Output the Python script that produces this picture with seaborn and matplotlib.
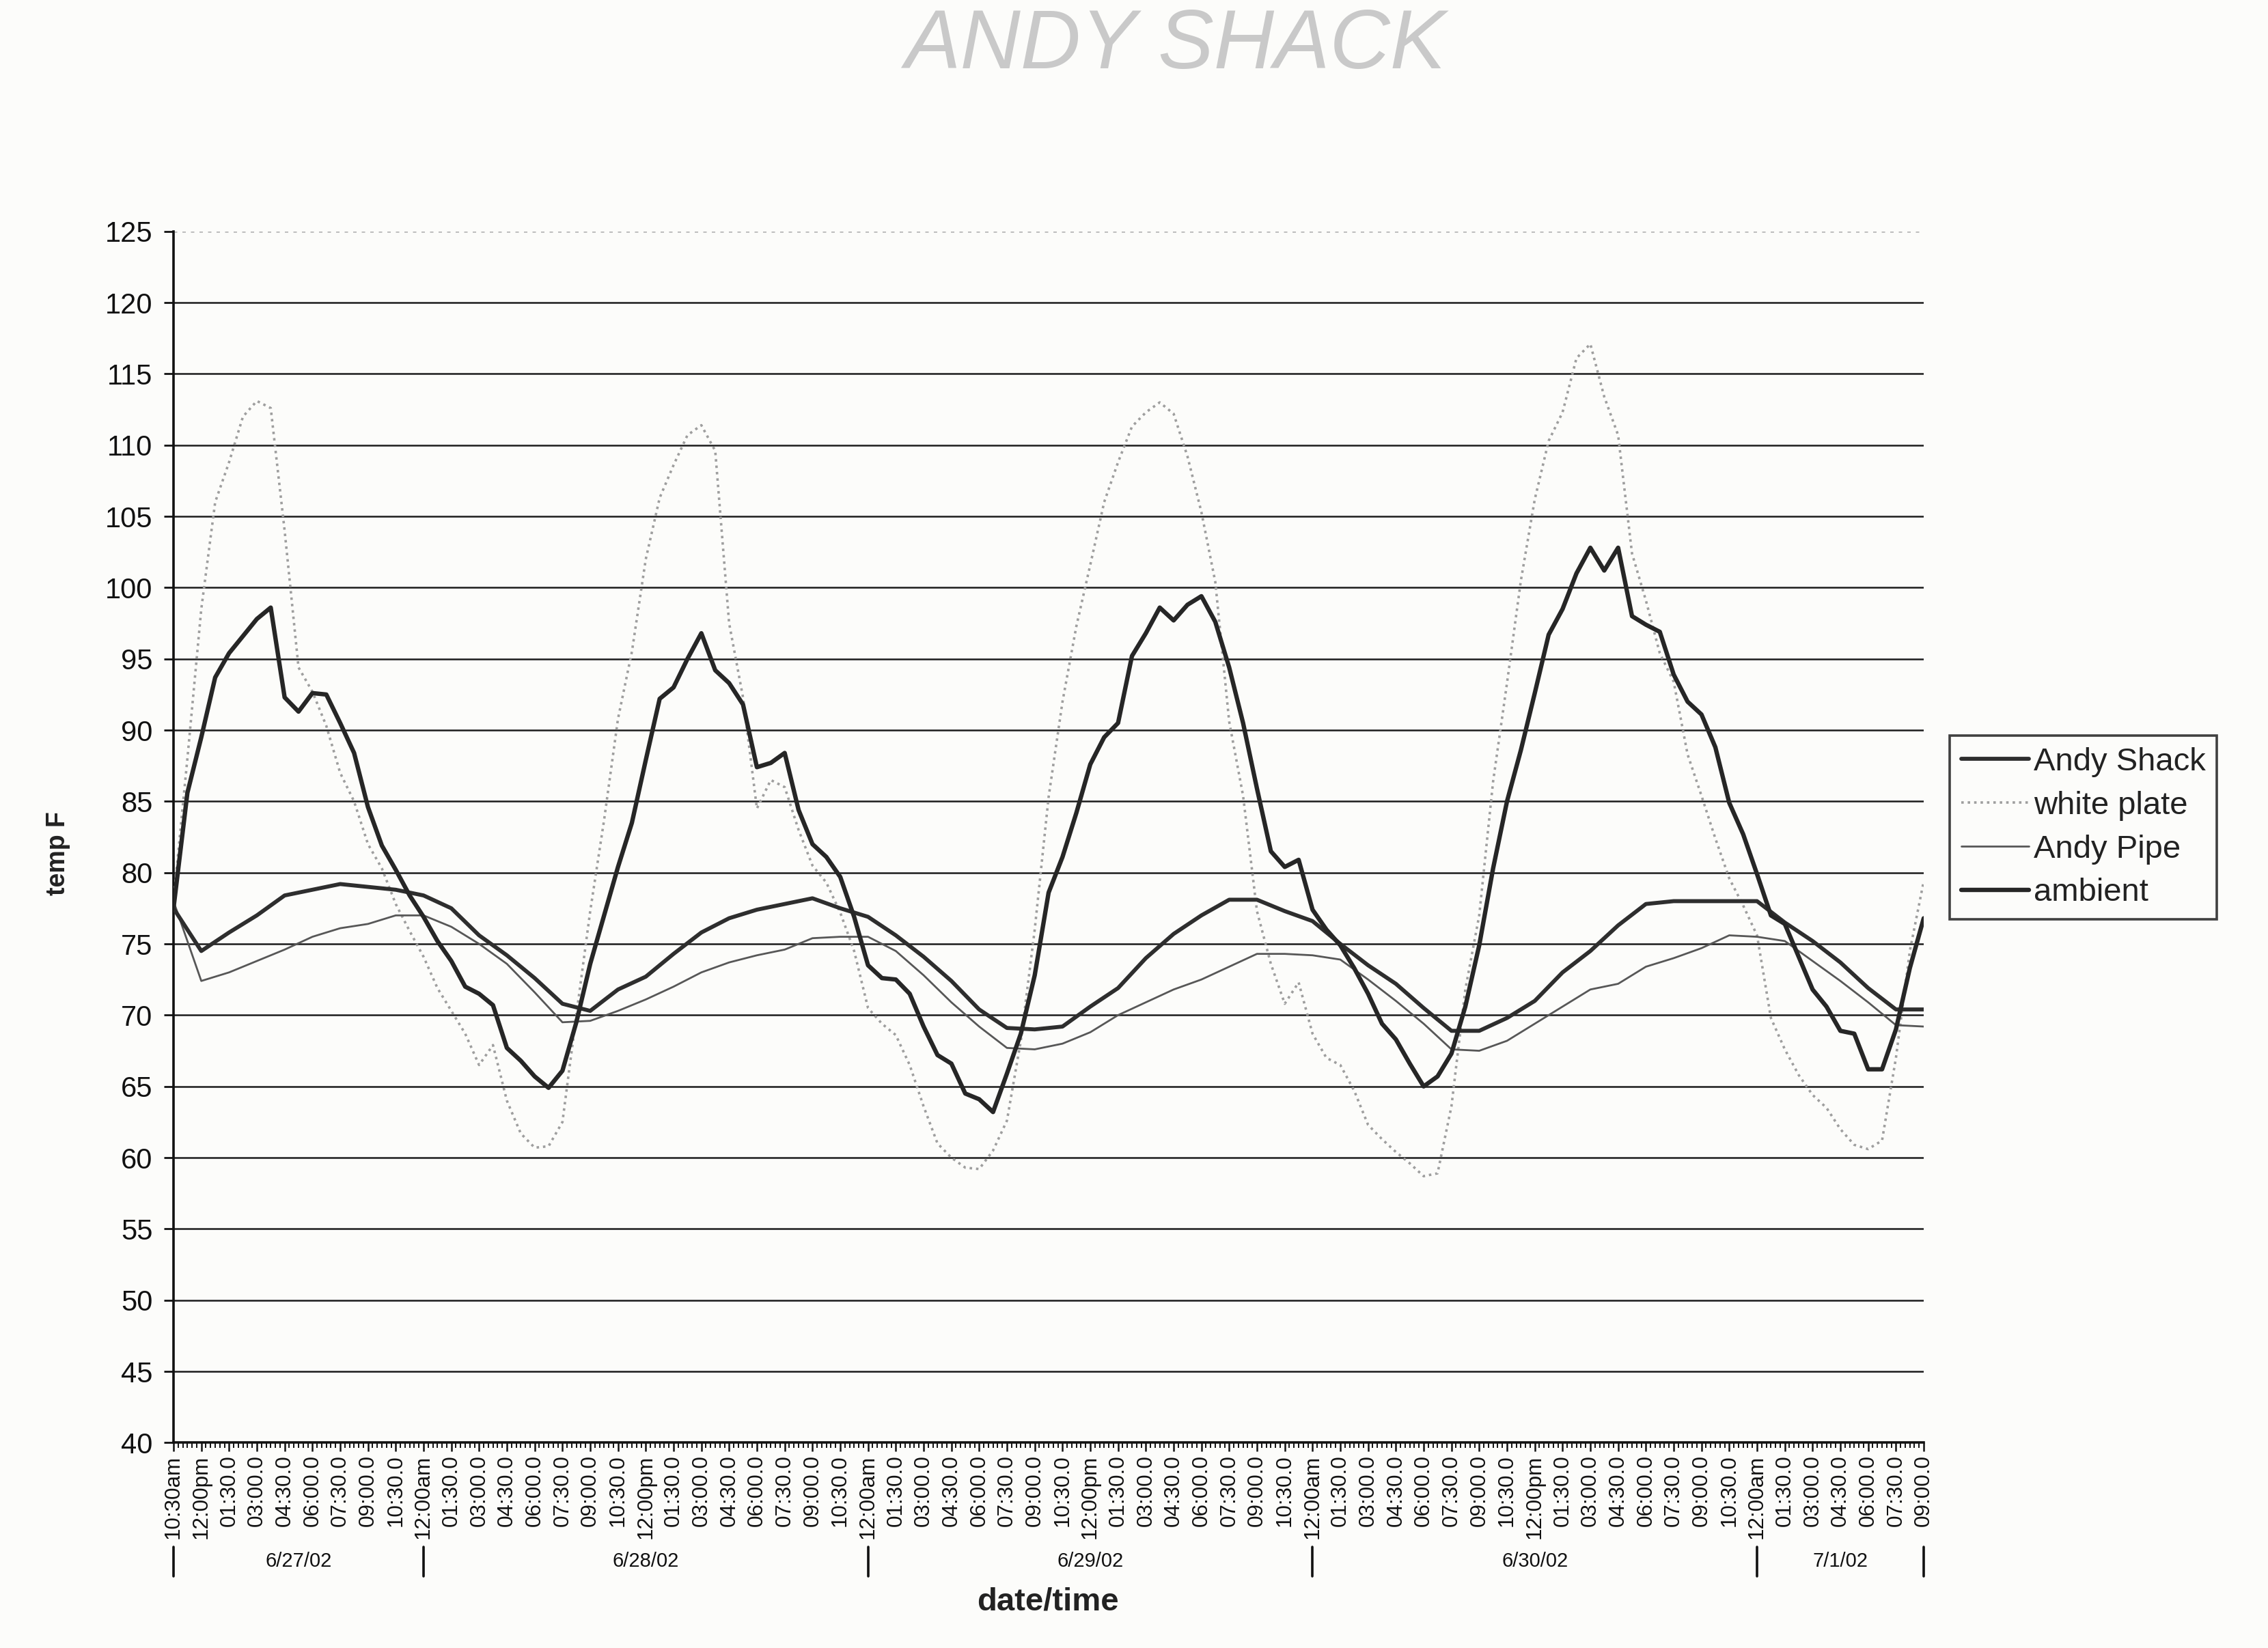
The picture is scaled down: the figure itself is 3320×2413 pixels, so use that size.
import numpy as np
import pandas as pd
import matplotlib
matplotlib.use("Agg")
import matplotlib.pyplot as plt
import matplotlib.transforms as mtransforms
from matplotlib.lines import Line2D
import seaborn as sns


# DATA
# hours counted from 6/27/02 00:00, first reading 10:30am, last 7/1 09:00

# fast-moving series read every 45 min
fine_hours = 10.5 + 0.75 * np.arange(127)

ambient = [
    77.5, 85.6, 89.5, 93.7, 95.4, 96.6, 97.8, 98.6, 92.3, 91.3, 92.6, 92.5, 90.5, 88.4, 84.6, 81.9, 80.2, 78.4, 76.9, 75.2, 73.8,
    72.0, 71.5, 70.7, 67.7, 66.8, 65.7, 64.9, 66.1, 69.5, 73.6, 77.0, 80.4, 83.5, 87.9, 92.2, 93.0, 95.0, 96.8, 94.2, 93.3, 91.8,
    87.4, 87.7, 88.4, 84.4, 82.0, 81.1, 79.7, 76.9, 73.5, 72.6, 72.5, 71.5, 69.2, 67.2, 66.6, 64.5, 64.1, 63.2, 65.9, 68.7, 72.8,
    78.6, 81.1, 84.2, 87.6, 89.5, 90.5, 95.2, 96.8, 98.6, 97.7, 98.8, 99.4, 97.6, 94.4, 90.5, 85.9, 81.5, 80.4, 80.9, 77.4, 76.0,
    74.9, 73.3, 71.5, 69.4, 68.3, 66.6, 65.0, 65.7, 67.3, 70.6, 74.9, 80.3, 85.0, 88.6, 92.6, 96.7, 98.5, 101.0, 102.8, 101.2, 102.8,
    98.0, 97.4, 96.9, 93.9, 92.0, 91.1, 88.8, 84.9, 82.7, 79.9, 77.0, 76.4, 74.1, 71.8, 70.6, 68.9, 68.7, 66.2, 66.2, 69.0, 73.3, 76.8,
]

white_plate = [
    78.0, 88.0, 98.5, 106.0, 108.8, 112.0, 113.1, 112.6, 104.0, 94.4, 92.7, 90.3, 87.0, 85.0, 82.0, 80.3, 77.8, 75.9, 74.1, 71.9, 70.3,
    68.7, 66.5, 67.9, 64.0, 61.7, 60.7, 60.8, 62.5, 70.0, 77.3, 83.7, 90.8, 95.5, 102.0, 106.3, 108.6, 110.7, 111.4, 109.6, 97.5, 92.3,
    84.5, 86.5, 86.0, 83.0, 80.5, 79.3, 77.2, 74.5, 70.5, 69.4, 68.6, 66.5, 63.6, 61.0, 60.0, 59.3, 59.2, 60.5, 62.6, 68.2, 76.0,
    85.3, 92.0, 97.3, 101.6, 106.0, 108.8, 111.3, 112.3, 113.0, 112.2, 109.2, 105.3, 100.4, 90.6, 85.4, 77.3, 73.6, 70.8, 72.3, 68.7, 67.0,
    66.5, 64.7, 62.3, 61.3, 60.4, 59.6, 58.7, 58.9, 63.6, 71.8, 77.0, 86.4, 93.3, 100.5, 106.2, 110.3, 112.3, 116.1, 117.1, 113.4, 110.7,
    102.4, 99.1, 95.4, 93.4, 88.3, 85.4, 82.4, 79.6, 77.7, 75.6, 69.8, 67.6, 65.8, 64.4, 63.5, 62.0, 60.9, 60.6, 61.2, 67.0, 74.5, 79.4,
]

# slow series read at every labelled category (1.5 h)
coarse_hours = 10.5 + 1.5 * np.arange(64)

andy_shack = [
    77.5, 74.5, 75.8, 77.0, 78.4, 78.8, 79.2, 79.0, 78.8, 78.4, 77.5,
    75.6, 74.2, 72.6, 70.8, 70.3, 71.8, 72.7, 74.3, 75.8, 76.8, 77.4,
    77.8, 78.2, 77.5, 76.9, 75.6, 74.1, 72.4, 70.4, 69.1, 69.0,
    69.2, 70.6, 71.9, 74.0, 75.7, 77.0, 78.1, 78.1, 77.3, 76.6, 75.0,
    73.5, 72.2, 70.5, 68.9, 68.9, 69.8, 71.0, 73.0, 74.5, 76.3,
    77.8, 78.0, 78.0, 78.0, 78.0, 76.5, 75.2, 73.7, 71.9, 70.4, 70.4,
]

andy_pipe = [
    78.0, 72.4, 73.0, 73.8, 74.6, 75.5, 76.1, 76.4, 77.0, 77.0, 76.2,
    75.0, 73.6, 71.6, 69.5, 69.6, 70.3, 71.1, 72.0, 73.0, 73.7, 74.2,
    74.6, 75.4, 75.5, 75.5, 74.5, 72.8, 70.9, 69.2, 67.7, 67.6,
    68.0, 68.8, 70.0, 70.9, 71.8, 72.5, 73.4, 74.3, 74.3, 74.2, 73.9,
    72.5, 71.0, 69.4, 67.6, 67.5, 68.2, 69.4, 70.6, 71.8, 72.2,
    73.4, 74.0, 74.7, 75.6, 75.5, 75.2, 73.8, 72.4, 70.9, 69.3, 69.2,
]

series_order = ["Andy Shack", "white plate", "Andy Pipe", "ambient"]

date_labels = ["6/27/02", "6/28/02", "6/29/02", "6/30/02", "7/1/02"]
date_bounds = [10.5, 24, 48, 72, 96, 105]

y_ticks = list(range(40, 126, 5))


def clock_label(h, first=False):
    # excel-ish category labels: "10:30am", "12:00pm", "12:00am", else "hh:mm.0"
    if first:
        return "10:30am"
    hh = h % 24
    hr = int(hh)
    mn = int(round((hh - hr) * 60))
    if hr == 0 and mn == 0:
        return "12:00am"
    if hr == 12 and mn == 0:
        return "12:00pm"
    return f"{hr % 12:02d}:{mn:02d}.0"


tick_labels = [clock_label(h, i == 0) for i, h in enumerate(coarse_hours)]


# LONG TABLE

df = pd.concat([
    pd.DataFrame({"hour": coarse_hours, "temp": andy_shack, "series": "Andy Shack"}),
    pd.DataFrame({"hour": fine_hours, "temp": white_plate, "series": "white plate"}),
    pd.DataFrame({"hour": coarse_hours, "temp": andy_pipe, "series": "Andy Pipe"}),
    pd.DataFrame({"hour": fine_hours, "temp": ambient, "series": "ambient"}),
], ignore_index=True)

styles = {
    "Andy Shack": dict(color="#2e2e2e", lw=2.1, ls="-"),
    "white plate": dict(color="#9e9e9e", lw=1.3, ls=(0, (1, 1.6))),
    "Andy Pipe": dict(color="#575757", lw=1.0, ls="-"),
    "ambient": dict(color="#262626", lw=2.3, ls="-"),
}


# PLOT

sns.set_theme(style="white")
plt.rcParams["font.family"] = ["Liberation Sans", "DejaVu Sans"]

fig = plt.figure(figsize=(16.6, 12.065), dpi=200, facecolor="#fcfcfa")
ax = fig.add_axes([0.0765, 0.1246, 0.7717, 0.735])
ax.set_facecolor("#fcfcfa")

for g in y_ticks[1:-1]:
    ax.axhline(g, color="#1c1c1c", lw=0.9, zorder=1)
ax.axhline(125, color="#b5b5b5", lw=0.9, ls=(0, (2, 3)), zorder=1)

handles = []
for name in ["white plate", "Andy Pipe", "Andy Shack", "ambient"]:
    st = styles[name]
    sub = df[df["series"] == name]
    sns.lineplot(data=sub, x="hour", y="temp", ax=ax, estimator=None,
                 color=st["color"], linewidth=st["lw"], linestyle=st["ls"],
                 legend=False, zorder=3)

for name in series_order:
    st = styles[name]
    handles.append(Line2D([], [], color=st["color"], lw=st["lw"], ls=st["ls"], label=name))

ax.set_xlim(10.5, 105)
ax.set_ylim(40, 125)

for side in ["top", "right"]:
    ax.spines[side].set_visible(False)
ax.spines["left"].set_color("#111111")
ax.spines["left"].set_linewidth(1.3)
ax.spines["bottom"].set_color("#111111")
ax.spines["bottom"].set_linewidth(1.3)

ax.set_yticks(y_ticks)
ax.set_yticklabels([str(t) for t in y_ticks], fontsize=15, color="#111111")
ax.tick_params(axis="y", direction="out", length=5, width=1.0, pad=6, color="#111111", left=True)

ax.set_xticks(coarse_hours)
ax.set_xticklabels(tick_labels, rotation=90, fontsize=11.3, color="#111111")
ax.set_xticks(np.arange(10.5, 105.01, 0.25), minor=True)
ax.tick_params(axis="x", which="major", direction="out", length=4.5, width=0.9, pad=2,
               color="#111111", bottom=True)
ax.tick_params(axis="x", which="minor", direction="out", length=3, width=0.7,
               color="#111111", bottom=True)

ax.set_xlabel("")
ax.set_ylabel("")

# date group row under the time labels
trans = mtransforms.blended_transform_factory(ax.transData, fig.transFigure)
for b in date_bounds:
    ax.add_line(Line2D([b, b], [0.0435, 0.0615], transform=trans, color="#111111",
                       lw=1.3, clip_on=False))
for i, lab in enumerate(date_labels):
    mid = (date_bounds[i] + date_bounds[i + 1]) / 2
    ax.text(mid, 0.0525, lab, transform=trans, ha="center", va="center",
            fontsize=10.5, color="#111111")

fig.text(0.462, 0.028, "date/time", ha="center", va="center", fontsize=17,
         fontweight="bold", color="#222222")
fig.text(0.0255, 0.482, "temp F", ha="center", va="center", rotation=90,
         fontsize=13.5, fontweight="bold", color="#222222")

# pencil note at the top of the page
fig.text(0.518, 0.972, "ANDY SHACK", ha="center", va="center", fontsize=44,
         color="#c9c9c9", style="italic", fontweight="light")

leg = fig.legend(handles=handles, loc="upper left", bbox_to_anchor=(0.8597, 0.5535),
                 bbox_transform=fig.transFigure, fontsize=17, frameon=True,
                 fancybox=False, edgecolor="#111111", handlelength=2.1,
                 handletextpad=0.15, labelspacing=0.42, borderpad=0.35,
                 borderaxespad=0)
leg.get_frame().set_linewidth(1.3)
leg.get_frame().set_facecolor("#fcfcfa")
for t in leg.get_texts():
    t.set_color("#222222")

fig.savefig("out.png", dpi=200, facecolor=fig.get_facecolor())
